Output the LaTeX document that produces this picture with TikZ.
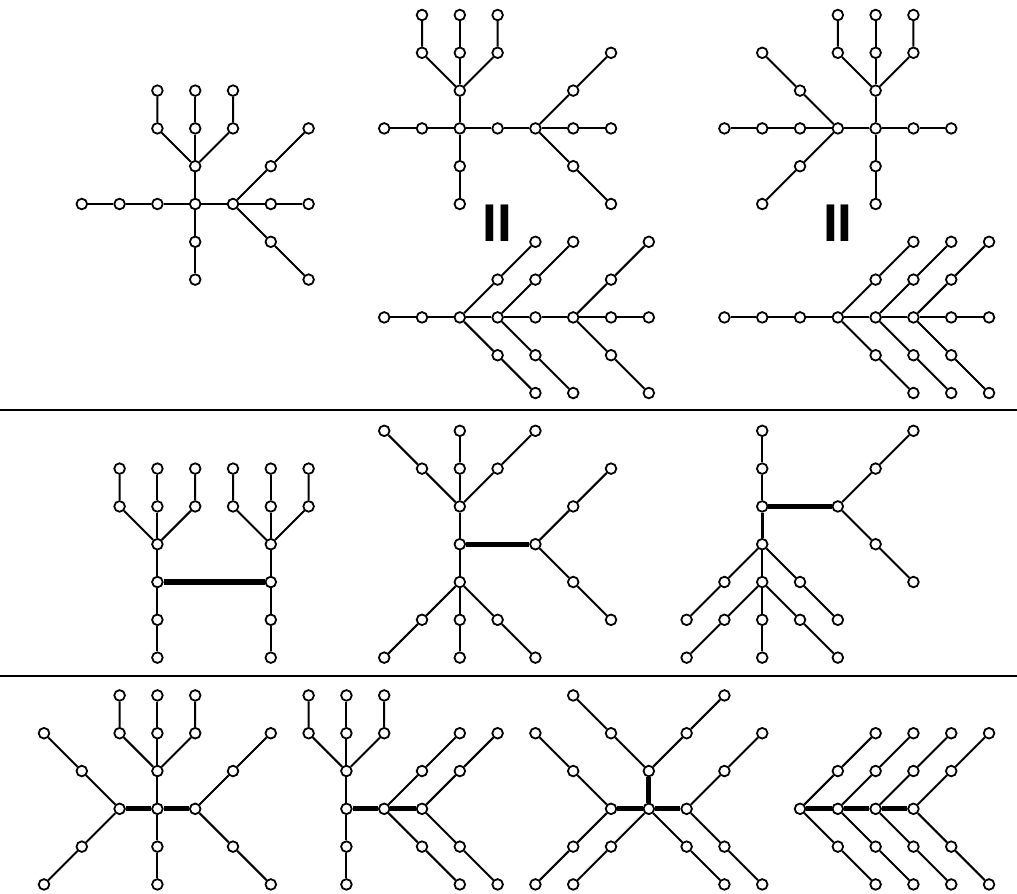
\documentclass[tikz,border=0pt]{standalone}
\usepackage{fontspec}
\newfontfamily\barfont{Liberation Sans}
\pgfdeclarelayer{back}
\pgfdeclarelayer{bg}
\pgfsetlayers{back,bg,main}
\tikzset{
  v/.style={circle,draw,fill=white,line width=1.35pt,minimum size=8pt,inner sep=0pt},
  e/.style={line width=1.5pt},
  be/.style={line width=4pt},
  me/.style={line width=2.4pt},
  sepline/.style={line width=1.2pt},
  eqsign/.style={font=\barfont\bfseries\fontsize{40}{40}\selectfont,inner sep=0pt}
}
\newcommand\vtx[2]{\node[v] (n-#1-#2) at (#1,#2) {};}
% fork: from (c,r) one arm up-right and one arm down-right, two steps each
\newcommand\fork[2]{%
  \pgfmathtruncatemacro\fca{#1+1}\pgfmathtruncatemacro\fcb{#1+2}%
  \pgfmathtruncatemacro\fru{#2-1}\pgfmathtruncatemacro\fruu{#2-2}%
  \pgfmathtruncatemacro\frd{#2+1}\pgfmathtruncatemacro\frdd{#2+2}%
  \vtx{\fca}{\fru}\vtx{\fcb}{\fruu}\vtx{\fca}{\frd}\vtx{\fcb}{\frdd}%
  \begin{pgfonlayer}{bg}
  \draw[e] (n-\fcb-\fruu) -- (n-\fca-\fru) -- (n-#1-#2) -- (n-\fca-\frd) -- (n-\fcb-\frdd);
  \end{pgfonlayer}}
% trident: from (c,r) three prongs upward, two steps each
\newcommand\trident[2]{%
  \pgfmathtruncatemacro\tcl{#1-1}\pgfmathtruncatemacro\tcr{#1+1}%
  \pgfmathtruncatemacro\tra{#2-1}\pgfmathtruncatemacro\trb{#2-2}%
  \vtx{\tcl}{\tra}\vtx{#1}{\tra}\vtx{\tcr}{\tra}%
  \vtx{\tcl}{\trb}\vtx{#1}{\trb}\vtx{\tcr}{\trb}%
  \begin{pgfonlayer}{bg}
  \draw[e] (n-\tcl-\trb) -- (n-\tcl-\tra) -- (n-#1-#2) -- (n-\tcr-\tra) -- (n-\tcr-\trb);
  \draw[e] (n-#1-#2) -- (n-#1-\tra) -- (n-#1-\trb);
  \end{pgfonlayer}}
\begin{document}
\begin{tikzpicture}[x=1cm,y=-1cm]
\useasboundingbox (-1.164,-0.397) rectangle (25.74,23.228);
\begin{pgfonlayer}{back}
\fill[white] (-1.164,-0.397) rectangle (25.74,23.228);
\end{pgfonlayer}

% ---------- Tree 1 ----------
\foreach \c/\r in {1/5,2/5,3/5,4/5,5/5,6/5,7/5,4/4,4/6,4/7} {\vtx{\c}{\r}}
\trident{4}{4}
\fork{5}{5}
\begin{pgfonlayer}{bg}
\draw[e] (n-1-5) -- (n-2-5) -- (n-3-5) -- (n-4-5) -- (n-5-5) -- (n-6-5) -- (n-7-5);
\draw[e] (n-4-7) -- (n-4-6) -- (n-4-5) -- (n-4-4);
\end{pgfonlayer}

% ---------- Tree 2 ----------
\foreach \c/\r in {9/3,10/3,11/3,12/3,13/3,14/3,15/3,11/2,11/4,11/5} {\vtx{\c}{\r}}
\trident{11}{2}
\fork{13}{3}
\begin{pgfonlayer}{bg}
\draw[e] (n-9-3) -- (n-10-3) -- (n-11-3) -- (n-12-3) -- (n-13-3) -- (n-14-3) -- (n-15-3);
\draw[e] (n-11-5) -- (n-11-4) -- (n-11-3) -- (n-11-2);
\end{pgfonlayer}

% ---------- Tree 3 ----------
\foreach \c/\r in {18/3,19/3,20/3,21/3,22/3,23/3,24/3,20/2,19/1,20/4,19/5,22/2,22/4,22/5} {\vtx{\c}{\r}}
\trident{22}{2}
\begin{pgfonlayer}{bg}
\draw[e] (n-18-3) -- (n-19-3) -- (n-20-3) -- (n-21-3) -- (n-22-3) -- (n-23-3) -- (n-24-3);
\draw[e] (n-19-1) -- (n-20-2) -- (n-21-3) -- (n-20-4) -- (n-19-5);
\draw[e] (n-22-5) -- (n-22-4) -- (n-22-3) -- (n-22-2);
\end{pgfonlayer}

% ---------- equality signs ----------
\node[eqsign] (eq1) at (12,5.52) {II};
\node[eqsign] (eq2) at (21,5.52) {II};

% ---------- Tree 4 ----------
\foreach \c in {9,...,16} {\vtx{\c}{8}}
\fork{11}{8}\fork{12}{8}\fork{14}{8}
\begin{pgfonlayer}{bg}
\draw[e] (n-9-8) -- (n-10-8) -- (n-11-8) -- (n-12-8) -- (n-13-8) -- (n-14-8) -- (n-15-8) -- (n-16-8);
\end{pgfonlayer}

% ---------- Tree 5 ----------
\foreach \c in {18,...,25} {\vtx{\c}{8}}
\fork{21}{8}\fork{22}{8}\fork{23}{8}
\begin{pgfonlayer}{bg}
\draw[e] (n-18-8) -- (n-19-8) -- (n-20-8) -- (n-21-8) -- (n-22-8) -- (n-23-8) -- (n-24-8) -- (n-25-8);
\end{pgfonlayer}

% ---------- separators ----------
\coordinate (s1a) at (-1.164,10.45); \coordinate (s1b) at (25.74,10.45);
\coordinate (s2a) at (-1.164,17.49); \coordinate (s2b) at (25.74,17.49);
\draw[sepline] (s1a) -- (s1b);
\draw[sepline] (s2a) -- (s2b);

% ---------- Tree 6 ----------
\foreach \c/\r in {3/14,3/15,3/16,3/17,6/14,6/15,6/16,6/17} {\vtx{\c}{\r}}
\trident{3}{14}\trident{6}{14}
\begin{pgfonlayer}{bg}
\draw[e] (n-3-17) -- (n-3-16) -- (n-3-15) -- (n-3-14);
\draw[e] (n-6-17) -- (n-6-16) -- (n-6-15) -- (n-6-14);
\draw[be] (n-3-15) -- (n-6-15);
\end{pgfonlayer}

% ---------- Tree 7 ----------
\foreach \c/\r in {9/11,11/11,13/11,10/12,11/12,12/12,11/13,11/14,11/15,10/16,11/16,12/16,9/17,11/17,13/17,13/14} {\vtx{\c}{\r}}
\fork{13}{14}
\begin{pgfonlayer}{bg}
\draw[e] (n-9-11) -- (n-10-12) -- (n-11-13) -- (n-12-12) -- (n-13-11);
\draw[e] (n-11-11) -- (n-11-12) -- (n-11-13) -- (n-11-14) -- (n-11-15) -- (n-11-16) -- (n-11-17);
\draw[e] (n-9-17) -- (n-10-16) -- (n-11-15) -- (n-12-16) -- (n-13-17);
\draw[be] (n-11-14) -- (n-13-14);
\end{pgfonlayer}

% ---------- Tree 8 ----------
\foreach \c/\r in {19/11,19/12,19/13,21/13,19/14,18/15,17/16,20/15,21/16,19/15,18/16,17/17,19/16,19/17,20/16,21/17} {\vtx{\c}{\r}}
\fork{21}{13}
\begin{pgfonlayer}{bg}
\draw[e] (n-19-11) -- (n-19-12) -- (n-19-13);
\draw[be] (n-19-13) -- (n-21-13);
\draw[me] (n-19-13) -- (n-19-14);
\draw[e] (n-19-14) -- (n-19-15) -- (n-19-16) -- (n-19-17);
\draw[e] (n-17-16) -- (n-18-15) -- (n-19-14) -- (n-20-15) -- (n-21-16);
\draw[e] (n-17-17) -- (n-18-16) -- (n-19-15) -- (n-20-16) -- (n-21-17);
\end{pgfonlayer}

% ---------- Tree 9 ----------
\foreach \c/\r in {2/21,3/21,4/21,3/20,3/22,3/23,1/20,0/19,1/22,0/23} {\vtx{\c}{\r}}
\trident{3}{20}
\fork{4}{21}
\begin{pgfonlayer}{bg}
\draw[be] (n-2-21) -- (n-3-21) -- (n-4-21);
\draw[e] (n-3-23) -- (n-3-22) -- (n-3-21) -- (n-3-20);
\draw[e] (n-0-19) -- (n-1-20) -- (n-2-21) -- (n-1-22) -- (n-0-23);
\end{pgfonlayer}

% ---------- Tree 10 ----------
\foreach \c/\r in {8/20,8/21,8/22,8/23,9/21,10/21} {\vtx{\c}{\r}}
\trident{8}{20}
\fork{9}{21}\fork{10}{21}
\begin{pgfonlayer}{bg}
\draw[e] (n-8-23) -- (n-8-22) -- (n-8-21) -- (n-8-20);
\draw[be] (n-8-21) -- (n-9-21) -- (n-10-21);
\end{pgfonlayer}

% ---------- Tree 11 ----------
\foreach \c/\r in {16/20,16/21,15/21,17/21,15/19,14/18,17/19,18/18,14/20,13/19,14/22,13/23,15/22,14/23,17/22,18/23} {\vtx{\c}{\r}}
\fork{17}{21}
\begin{pgfonlayer}{bg}
\draw[be] (n-16-20) -- (n-16-21);
\draw[be] (n-15-21) -- (n-16-21) -- (n-17-21);
\draw[e] (n-14-18) -- (n-15-19) -- (n-16-20) -- (n-17-19) -- (n-18-18);
\draw[e] (n-13-19) -- (n-14-20) -- (n-15-21) -- (n-14-22) -- (n-13-23);
\draw[e] (n-14-23) -- (n-15-22) -- (n-16-21) -- (n-17-22) -- (n-18-23);
\end{pgfonlayer}

% ---------- Tree 12 ----------
\foreach \c in {20,...,23} {\vtx{\c}{21}}
\fork{20}{21}\fork{21}{21}\fork{22}{21}\fork{23}{21}
\begin{pgfonlayer}{bg}
\draw[be] (n-20-21) -- (n-21-21) -- (n-22-21) -- (n-23-21);
\end{pgfonlayer}
\end{tikzpicture}
\end{document}
